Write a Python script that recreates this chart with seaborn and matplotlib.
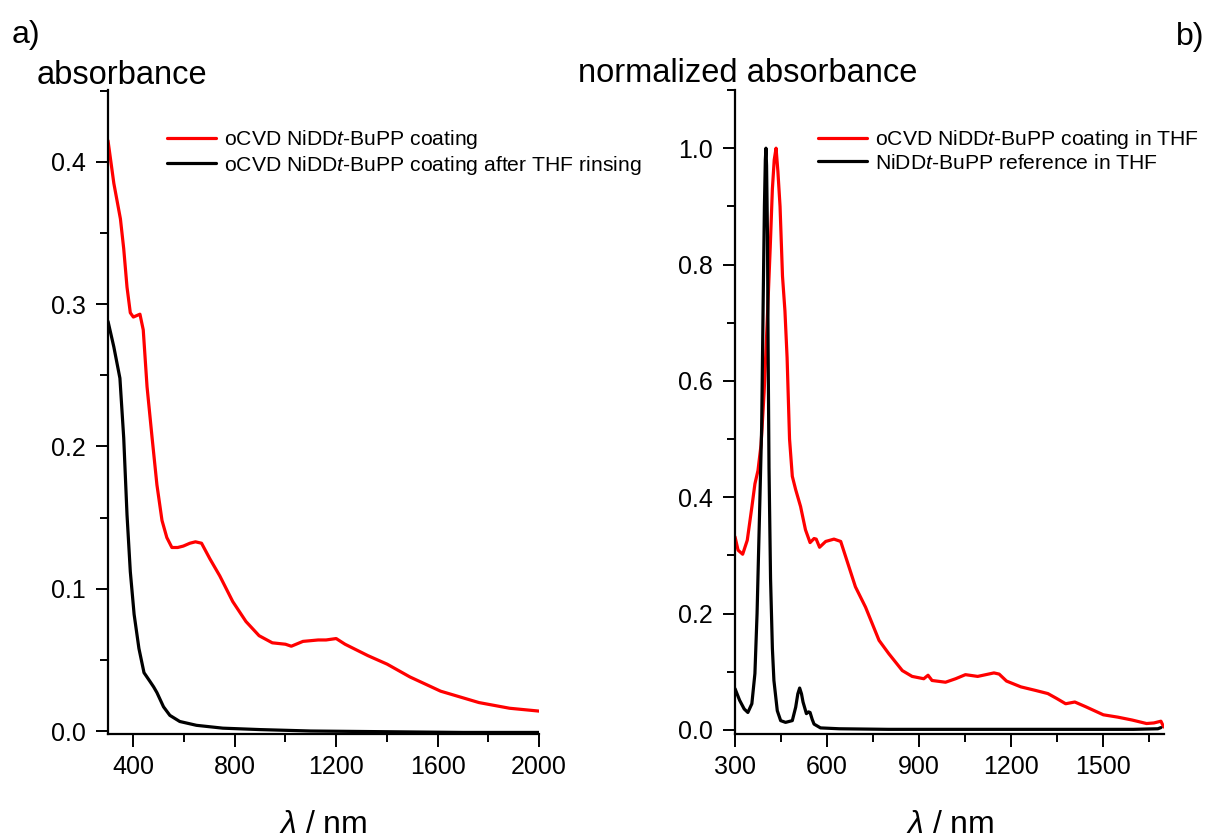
import matplotlib
matplotlib.use("Agg")
import matplotlib.pyplot as plt
import seaborn as sns
import pandas as pd
from matplotlib.ticker import MultipleLocator, FormatStrFormatter

# ---------------- data ----------------
left_red_x = [300, 323, 349, 362, 375, 388, 400, 413, 426, 439, 454, 474, 493, 513, 532, 552, 575, 597, 623, 645,
              669, 702, 741, 792, 844, 896, 948, 1000, 1023, 1069, 1129, 1160, 1200, 1235, 1325, 1401, 1491, 1612,
              1763, 1884, 2000]
left_red_y = [0.415, 0.385, 0.360, 0.339, 0.312, 0.294, 0.291, 0.292, 0.293, 0.282, 0.242, 0.206, 0.173, 0.148,
              0.136, 0.129, 0.129, 0.130, 0.132, 0.133, 0.132, 0.121, 0.109, 0.091, 0.077, 0.067, 0.062, 0.061,
              0.0596, 0.063, 0.064, 0.064, 0.065, 0.061, 0.053, 0.047, 0.038, 0.028, 0.020, 0.016, 0.014]

left_black_x = [300, 323, 347, 362, 375, 388, 403, 422, 442, 465, 480, 493, 519, 544, 583, 649, 753, 900, 1100,
                1400, 1700, 2000]
left_black_y = [0.288, 0.270, 0.248, 0.206, 0.152, 0.112, 0.082, 0.058, 0.041, 0.035, 0.031, 0.027, 0.017, 0.011,
                0.0067, 0.004, 0.002, 0.001, 0.0, -0.0005, -0.001, -0.001]

right_red_x = [300, 310, 325, 340, 355, 365, 375, 385, 395, 405, 415, 422, 428, 434, 440, 447, 455, 463, 470, 478,
               487, 498, 514, 530, 545, 558, 565, 576, 596, 623, 645, 661, 693, 726, 770, 802, 846, 878, 916, 930,
               943, 987, 1020, 1052, 1092, 1145, 1162, 1186, 1233, 1280, 1321, 1350, 1379, 1409, 1444, 1502, 1549,
               1596, 1643, 1667, 1690, 1699]
right_red_y = [0.332, 0.309, 0.302, 0.326, 0.383, 0.423, 0.446, 0.49, 0.58, 0.70, 0.83, 0.93, 0.98, 1.0, 0.96,
               0.90, 0.78, 0.72, 0.64, 0.50, 0.436, 0.413, 0.384, 0.344, 0.322, 0.329, 0.328, 0.314, 0.324, 0.328,
               0.324, 0.298, 0.246, 0.211, 0.154, 0.131, 0.102, 0.092, 0.088, 0.094, 0.085, 0.082, 0.088, 0.095,
               0.092, 0.098, 0.096, 0.084, 0.074, 0.068, 0.0625, 0.054, 0.045, 0.048, 0.040, 0.026, 0.022, 0.017,
               0.011, 0.012, 0.015, 0.005]

right_black_x = [300, 315, 330, 342, 355, 365, 372, 380, 387, 392, 396, 399, 401, 403, 406, 408, 411, 416, 422,
                 427, 438, 449, 465, 487, 498, 505, 511, 517, 522, 533, 540, 545, 552, 558, 579, 640, 800, 1200,
                 1600, 1680, 1690]
right_black_y = [0.071, 0.051, 0.036, 0.030, 0.045, 0.097, 0.20, 0.37, 0.52, 0.74, 0.90, 0.98, 1.0, 0.97, 0.85,
                 0.66, 0.45, 0.26, 0.14, 0.085, 0.033, 0.016, 0.013, 0.016, 0.039, 0.062, 0.072, 0.062, 0.048,
                 0.028, 0.031, 0.030, 0.018, 0.010, 0.0035, 0.002, 0.001, 0.001, 0.001, 0.002, 0.004]

left_labels = ["oCVD NiDD$t$-BuPP coating", "oCVD NiDD$t$-BuPP coating after THF rinsing"]
right_labels = ["oCVD NiDD$t$-BuPP coating in THF", "NiDD$t$-BuPP reference in THF"]
colors = ["#ff0000", "#000000"]

# ---------------- style ----------------
sns.set_style("ticks")
plt.rcParams["font.family"] = ["Liberation Sans", "DejaVu Sans"]
plt.rcParams["mathtext.fontset"] = "custom"
plt.rcParams["mathtext.rm"] = "Liberation Sans"
plt.rcParams["mathtext.it"] = "Liberation Sans:italic"
plt.rcParams["mathtext.bf"] = "Liberation Sans:bold"
plt.rcParams["text.color"] = "black"
plt.rcParams["axes.labelcolor"] = "black"
plt.rcParams["xtick.color"] = "black"
plt.rcParams["ytick.color"] = "black"

df_left = pd.concat([
    pd.DataFrame({"wl": left_red_x, "A": left_red_y, "s": left_labels[0]}),
    pd.DataFrame({"wl": left_black_x, "A": left_black_y, "s": left_labels[1]}),
])
df_right = pd.concat([
    pd.DataFrame({"wl": right_red_x, "A": right_red_y, "s": right_labels[0]}),
    pd.DataFrame({"wl": right_black_x, "A": right_black_y, "s": right_labels[1]}),
])

fig = plt.figure(figsize=(12.06, 8.40), dpi=100)
axL = fig.add_axes([108 / 1206, 1 - 734 / 840, 431 / 1206, 644 / 840])
axR = fig.add_axes([735 / 1206, 1 - 734 / 840, 429 / 1206, 644 / 840])

for ax, df, labels in [(axL, df_left, left_labels), (axR, df_right, right_labels)]:
    sns.lineplot(data=df, x="wl", y="A", hue="s", hue_order=labels,
                 palette=dict(zip(labels, colors)), estimator=None, sort=False,
                 linewidth=2.3, ax=ax)
    for sp in ["top", "right"]:
        ax.spines[sp].set_visible(False)
    for sp in ["left", "bottom"]:
        ax.spines[sp].set_linewidth(1.6)
        ax.spines[sp].set_color("black")
    ax.tick_params(which="major", direction="out", length=9, width=1.4, labelsize=18,
                   colors="black")
    ax.tick_params(which="minor", direction="out", length=5.5, width=1.4)
    ax.tick_params(axis="x", which="major", pad=6)
    ax.tick_params(axis="y", which="major", pad=7)
    ax.set_xlabel("")
    ax.set_ylabel("")
    ax.yaxis.set_major_formatter(FormatStrFormatter("%.1f"))

axL.set_xlim(300, 2000)
axL.set_ylim(-0.0021, 0.4506)
axL.xaxis.set_major_locator(MultipleLocator(400))
axL.xaxis.set_minor_locator(MultipleLocator(200))
axL.yaxis.set_major_locator(MultipleLocator(0.1))
axL.yaxis.set_minor_locator(MultipleLocator(0.05))

axR.set_xlim(300, 1700)
axR.set_ylim(-0.007, 1.1)
axR.xaxis.set_major_locator(MultipleLocator(300))
axR.xaxis.set_minor_locator(MultipleLocator(150))
axR.yaxis.set_major_locator(MultipleLocator(0.2))
axR.yaxis.set_minor_locator(MultipleLocator(0.1))

legkw = dict(loc="upper left", frameon=False, fontsize=15.2, handlelength=2.3,
             handletextpad=0.4, labelspacing=0.12, borderpad=0, borderaxespad=0,
             bbox_transform=fig.transFigure)
hL, lL = axL.get_legend_handles_labels()
axL.legend(hL, lL, bbox_to_anchor=(167 / 1206, 1 - 128 / 840), **legkw)
hR, lR = axR.get_legend_handles_labels()
axR.legend(hR, lR, bbox_to_anchor=(818 / 1206, 1 - 128 / 840), **legkw)

fig.text(12 / 1206, 1 - 35 / 840, "a)", fontsize=23, va="center", ha="left")
fig.text(1204 / 1206, 1 - 37 / 840, "b)", fontsize=23, va="center", ha="right")
fig.text(37 / 1206, 1 - 75 / 840, "absorbance", fontsize=23.5, va="center", ha="left")
fig.text(578 / 1206, 1 - 73 / 840, "normalized absorbance", fontsize=23.5, va="center", ha="left")
fig.text(323 / 1206, 1 - 825 / 840, r"$\lambda$ / nm", fontsize=23, va="center", ha="center")
fig.text(950 / 1206, 1 - 825 / 840, r"$\lambda$ / nm", fontsize=23, va="center", ha="center")

fig.savefig("out.png", dpi=100)
